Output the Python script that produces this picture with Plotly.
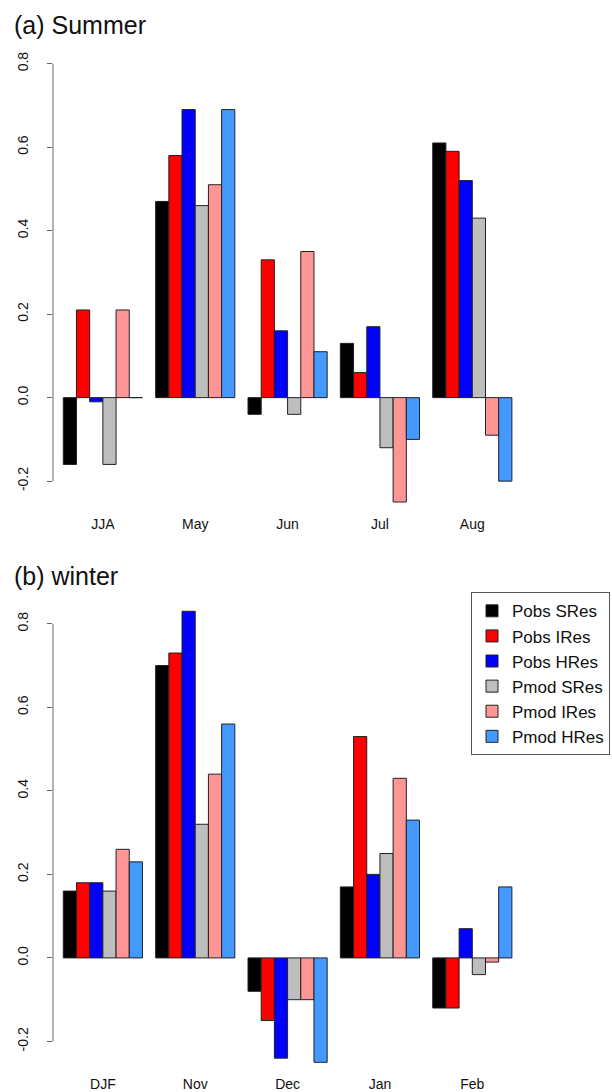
import plotly.graph_objects as go

series_names = ["Pobs SRes", "Pobs IRes", "Pobs HRes", "Pmod SRes", "Pmod IRes", "Pmod HRes"]
series_colors = ["#000000", "#FF0000", "#0000FF", "#BEBEBE", "#FF9696", "#4499FF"]

summer_cats = ["JJA", "May", "Jun", "Jul", "Aug"]
summer_pobs_sres = [-0.16, 0.47, -0.04, 0.13, 0.61]
summer_pobs_ires = [0.21, 0.58, 0.33, 0.06, 0.59]
summer_pobs_hres = [-0.01, 0.69, 0.16, 0.17, 0.52]
summer_pmod_sres = [-0.16, 0.46, -0.04, -0.12, 0.43]
summer_pmod_ires = [0.21, 0.51, 0.35, -0.25, -0.09]
summer_pmod_hres = [0.00, 0.69, 0.11, -0.10, -0.20]

winter_cats = ["DJF", "Nov", "Dec", "Jan", "Feb"]
winter_pobs_sres = [0.16, 0.70, -0.08, 0.17, -0.12]
winter_pobs_ires = [0.18, 0.73, -0.15, 0.53, -0.12]
winter_pobs_hres = [0.18, 0.83, -0.24, 0.20, 0.07]
winter_pmod_sres = [0.16, 0.32, -0.10, 0.25, -0.04]
winter_pmod_ires = [0.26, 0.44, -0.10, 0.43, -0.01]
winter_pmod_hres = [0.23, 0.56, -0.25, 0.33, 0.17]

y_ticks = [-0.2, 0.0, 0.2, 0.4, 0.6, 0.8]
y_ticktext = ["-0.2", "0.0", "0.2", "0.4", "0.6", "0.8"]

summer = [summer_pobs_sres, summer_pobs_ires, summer_pobs_hres,
          summer_pmod_sres, summer_pmod_ires, summer_pmod_hres]
winter = [winter_pobs_sres, winter_pobs_ires, winter_pobs_hres,
          winter_pmod_sres, winter_pmod_ires, winter_pmod_hres]

FONT = "Liberation Sans, Arial, Helvetica, sans-serif"

fig = go.Figure()
for name, col, vals in zip(series_names, series_colors, summer):
    fig.add_trace(go.Bar(x=summer_cats, y=vals, name=name, marker_color=col,
                         marker_line=dict(color="#222222", width=1),
                         xaxis="x", yaxis="y", showlegend=False))
for name, col, vals in zip(series_names, series_colors, winter):
    fig.add_trace(go.Bar(x=winter_cats, y=vals, name=name, marker_color=col,
                         marker_line=dict(color="#222222", width=1),
                         xaxis="x2", yaxis="y2", showlegend=True))

W, H = 612, 1092
x_dom = [53 / W, 610 / W]
x_rng = [-0.54, 5.491]
y_rng = [-0.265, 0.86]
ya_dom = [(H - 510.6) / H, (H - 38.8) / H]
yb_dom = [(H - 1073.5) / H, (H - 601.5) / H]

xcommon = dict(range=x_rng, showline=False, showgrid=False, zeroline=False,
               ticks="outside", ticklen=3, tickcolor="rgba(0,0,0,0)",
               tickfont=dict(family=FONT, size=14, color="#111"))
ycommon = dict(range=y_rng, showline=False, showgrid=False, zeroline=False,
               tickvals=y_ticks, ticktext=y_ticktext, ticks="outside",
               ticklen=5, tickcolor="#666", tickwidth=1, tickangle=-90,
               ticklabelstandoff=13,
               tickfont=dict(family=FONT, size=14, color="#111"))

fig.update_layout(
    width=W, height=H,
    margin=dict(l=0, r=0, t=0, b=0),
    paper_bgcolor="white", plot_bgcolor="white",
    barmode="group", bargap=1 / 7, bargroupgap=0,
    xaxis=dict(domain=x_dom, anchor="y", **xcommon),
    yaxis=dict(domain=ya_dom, anchor="x", **ycommon),
    xaxis2=dict(domain=x_dom, anchor="y2", **xcommon),
    yaxis2=dict(domain=yb_dom, anchor="x2", **ycommon),
    legend=dict(x=610 / W, xanchor="right", y=(H - 595) / H, yanchor="top",
                bgcolor="white", bordercolor="#555", borderwidth=1,
                font=dict(family=FONT, size=17, color="#111"),
                tracegroupgap=0, itemwidth=30),
    showlegend=True,
)

for yref in ["y", "y2"]:
    fig.add_shape(type="line", xref=("x domain" if yref == "y" else "x2 domain"),
                  yref=yref, x0=0, x1=0, y0=min(y_ticks), y1=max(y_ticks),
                  line=dict(color="#666", width=1))

fig.add_annotation(text="(a) Summer", xref="paper", yref="paper",
                   x=12 / W, y=(H - 25) / H, xanchor="left", yanchor="middle",
                   showarrow=False, font=dict(family=FONT, size=25, color="#111"))
fig.add_annotation(text="(b) winter", xref="paper", yref="paper",
                   x=12 / W, y=(H - 579) / H, xanchor="left", yanchor="middle",
                   showarrow=False, font=dict(family=FONT, size=25, color="#111"))

fig.write_html("out.html", config={"displayModeBar": False},
               post_script="document.body.style.margin='0';document.body.style.overflow='hidden';")
